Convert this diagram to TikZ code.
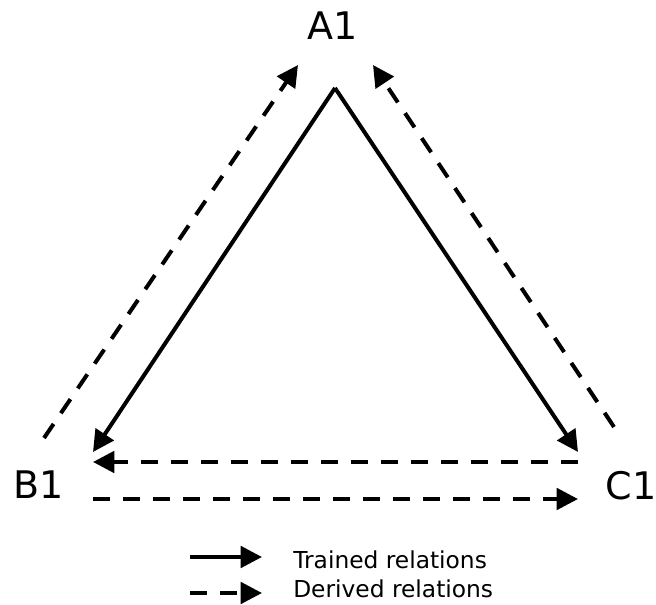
\documentclass[tikz,border=0pt]{standalone}
\usepackage{fontspec}
\setmainfont{DejaVu Sans}
\usepackage{tikz}
\usetikzlibrary{positioning}
\usetikzlibrary{arrows.meta}

\begin{document}
\begin{tikzpicture}[x=0.75pt, y=-0.75pt,
	trained/.style={line width=3pt, -{Triangle[length=16pt, width=16pt]}},
	derived/.style={trained, dash pattern=on 12.75pt off 9.75pt},
	vertex/.style={inner sep=0pt, font=\fontsize{28.5}{28.5}\selectfont},
	legendtext/.style={inner sep=0pt, anchor=base west, font=\fontsize{17.5}{17.5}\selectfont}]
	\useasboundingbox (0,0) rectangle (656,605);

	% Stimuli
	\node [vertex] at (333,25.5) (A1) {A1};
	\node [vertex] at (38.5,485) (B1) {B1};
	\node [vertex] at (631,486) (C1) {C1};

	% End points of the relations
	\coordinate (apex) at (335,88);
	\coordinate (B1in) at (93,452);
	\coordinate (C1in) at (578,452);
	\coordinate (B1up) at (44,438);
	\coordinate (A1left) at (298,65);
	\coordinate (C1up) at (614,427);
	\coordinate (A1right) at (373,65);
	\coordinate (C1back) at (578,462);
	\coordinate (B1back) at (93,462);
	\coordinate (B1out) at (93,499);
	\coordinate (C1out) at (578,499);

	% Trained relations
	\draw [trained] (apex) -- (B1in);
	\draw [trained] (apex) -- (C1in);

	% Derived relations
	\draw [derived] (B1up) -- (A1left);
	\draw [derived] (C1up) -- (A1right);
	\draw [derived] (C1back) -- (B1back);
	\draw [derived] (B1out) -- (C1out);

	% Legend
	\coordinate (key1) at (190,557);
	\coordinate (key2) at (190,593);
	\draw [trained] (key1) -- ++(72,0) coordinate (key1end);
	\draw [derived] (key2) -- ++(72,0) coordinate (key2end);
	\node [legendtext] at (293,568) (trainedtext) {Trained relations};
	\node [legendtext] at (293,597) (derivedtext) {Derived relations};

\end{tikzpicture}
\end{document}
